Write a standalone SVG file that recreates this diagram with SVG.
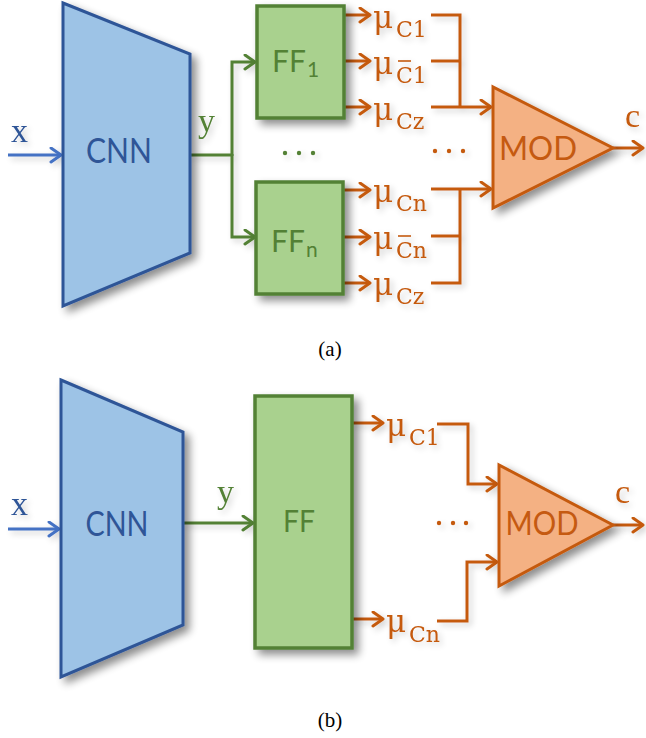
<svg xmlns="http://www.w3.org/2000/svg" width="646" height="738" viewBox="0 0 646 738">
  <defs>
    <filter id="shadow" x="-20%" y="-20%" width="150%" height="150%">
      <feGaussianBlur in="SourceAlpha" stdDeviation="4"/>
      <feOffset dx="5" dy="5" result="b"/>
      <feComponentTransfer><feFuncA type="linear" slope="0.45"/></feComponentTransfer>
      <feMerge><feMergeNode/><feMergeNode in="SourceGraphic"/></feMerge>
    </filter>
    <filter id="soft" x="-20%" y="-20%" width="150%" height="150%">
      <feGaussianBlur in="SourceAlpha" stdDeviation="3"/>
      <feOffset dx="3" dy="3" result="b"/>
      <feComponentTransfer><feFuncA type="linear" slope="0.2"/></feComponentTransfer>
      <feMerge><feMergeNode/><feMergeNode in="SourceGraphic"/></feMerge>
    </filter>
    <marker id="ah-blue" markerUnits="userSpaceOnUse" markerWidth="16" markerHeight="18" refX="12" refY="8" orient="auto">
      <path d="M2,1 L12,8 L2,15" fill="none" stroke="#4472C4" stroke-width="3" stroke-linecap="round" stroke-linejoin="round"/>
    </marker>
    <marker id="ah-green" markerUnits="userSpaceOnUse" markerWidth="16" markerHeight="18" refX="12" refY="8" orient="auto">
      <path d="M2,1 L12,8 L2,15" fill="none" stroke="#538135" stroke-width="3" stroke-linecap="round" stroke-linejoin="round"/>
    </marker>
    <marker id="ah-orange" markerUnits="userSpaceOnUse" markerWidth="16" markerHeight="18" refX="12" refY="8" orient="auto">
      <path d="M2,1 L12,8 L2,15" fill="none" stroke="#C55A11" stroke-width="3" stroke-linecap="round" stroke-linejoin="round"/>
    </marker>
  </defs>
  <style>
    .cnn { fill: #9DC3E6; stroke: #2F5597; stroke-width: 3; stroke-linejoin: miter; }
    .ff { fill: #A9D18E; stroke: #538135; stroke-width: 3.5; }
    .mod { fill: #F4B183; stroke: #C55A11; stroke-width: 3; stroke-linejoin: miter; }
    .lbl { font-family: Lato, "Open Sans", "Liberation Sans", sans-serif; }
    .t-cnn { fill: #2F5597; font-size: 34px; }
    .t-ff { fill: #538135; font-size: 30px; }
    .t-mod { fill: #C55A11; font-size: 32px; }
    .serif { font-family: "Liberation Serif", "DejaVu Serif", serif; }
    .var-b { fill: #2F5597; font-size: 34px; }
    .var-g { fill: #538135; font-size: 34px; }
    .var-o { fill: #C55A11; font-size: 34px; }
    .mu { fill: #C55A11; font-size: 31px; font-family: "DejaVu Serif", "Liberation Serif", serif; }
    .sub { fill: #C55A11; font-size: 22px; font-family: "DejaVu Serif", "Liberation Serif", serif; }
    .bar { stroke: #C55A11; stroke-width: 1.6; }
    .caption { fill: #000; font-size: 21px; }
    .c-blue { fill: none; stroke: #4472C4; stroke-width: 3; }
    .c-green { fill: none; stroke: #538135; stroke-width: 3; }
    .c-orange { fill: none; stroke: #C55A11; stroke-width: 3; }
    .dot-g { fill: #538135; }
    .dot-o { fill: #C55A11; }
  </style>

  <!-- ===== (a) one feed-forward head per concept ===== -->
  <g id="connectors-a" filter="url(#soft)">
    <path class="c-blue" d="M8,155 H61" marker-end="url(#ah-blue)"/>
    <path class="c-green" d="M190,155 H232"/>
    <path class="c-green" d="M232,156 V62 H255" marker-end="url(#ah-green)"/>
    <path class="c-green" d="M232,154 V237 H255" marker-end="url(#ah-green)"/>
    <!-- FF1 outputs -->
    <path class="c-orange" d="M344,15 H370" marker-end="url(#ah-orange)"/>
    <path class="c-orange" d="M344,61 H370" marker-end="url(#ah-orange)"/>
    <path class="c-orange" d="M344,107 H370" marker-end="url(#ah-orange)"/>
    <!-- FFn outputs -->
    <path class="c-orange" d="M343,190 H370" marker-end="url(#ah-orange)"/>
    <path class="c-orange" d="M343,237 H370" marker-end="url(#ah-orange)"/>
    <path class="c-orange" d="M343,283 H370" marker-end="url(#ah-orange)"/>
    <!-- gathering into MOD -->
    <path class="c-orange" d="M431,15 H460 V107"/>
    <path class="c-orange" d="M431,61 H460"/>
    <path class="c-orange" d="M431,107 H491" marker-end="url(#ah-orange)"/>
    <path class="c-orange" d="M431,189 H491" marker-end="url(#ah-orange)"/>
    <path class="c-orange" d="M460,189 V283 H431"/>
    <path class="c-orange" d="M431,236 H460"/>
    <path class="c-orange" d="M613,148 H643" marker-end="url(#ah-orange)"/>
  </g>

  <g id="cnn-a">
    <polygon class="cnn" points="63,3 190,54 190,253 63,306" filter="url(#shadow)"/>
    <text class="lbl t-cnn" x="119" y="163" text-anchor="middle" textLength="66" lengthAdjust="spacingAndGlyphs">CNN</text>
  </g>
  <g id="ff1-a">
    <rect class="ff" x="257" y="6" width="87" height="112" filter="url(#shadow)"/>
    <text class="lbl t-ff" x="272" y="72">FF<tspan style="font-size:21px" dx="1" dy="5">1</tspan></text>
  </g>
  <g id="ffn-a">
    <rect class="ff" x="256" y="182" width="87" height="112" filter="url(#shadow)"/>
    <text class="lbl t-ff" x="271" y="252">FF<tspan style="font-size:21px" dx="1" dy="5">n</tspan></text>
  </g>
  <g id="mod-a">
    <polygon class="mod" points="493,87 493,208 613,148" filter="url(#shadow)"/>
    <text class="lbl t-mod" x="538" y="160" text-anchor="middle" textLength="78" lengthAdjust="spacingAndGlyphs">MOD</text>
  </g>

  <g id="labels-a" filter="url(#soft)">
    <text class="serif var-b" x="11" y="142">x</text>
    <text class="serif var-g" x="198" y="132">y</text>
    <text class="serif var-o" x="625" y="127">c</text>
    <!-- FF1 memberships -->
    <text class="mu" x="373" y="28">μ</text>
    <text class="sub" x="396" y="37">C1</text>
    <text class="mu" x="373" y="74">μ</text>
    <text class="sub" x="396" y="83">C1</text>
    <line class="bar" x1="398" y1="61" x2="411" y2="61"/>
    <text class="mu" x="373" y="120">μ</text>
    <text class="sub" x="396" y="129">Cz</text>
    <!-- FFn memberships -->
    <text class="mu" x="373" y="202">μ</text>
    <text class="sub" x="396" y="211">Cn</text>
    <text class="mu" x="373" y="249">μ</text>
    <text class="sub" x="396" y="258">Cn</text>
    <line class="bar" x1="398" y1="236" x2="411" y2="236"/>
    <text class="mu" x="373" y="295">μ</text>
    <text class="sub" x="396" y="304">Cz</text>
    <circle class="dot-g" cx="285" cy="153" r="2.2"/>
    <circle class="dot-g" cx="299" cy="153" r="2.2"/>
    <circle class="dot-g" cx="313" cy="153" r="2.2"/>
    <circle class="dot-o" cx="435" cy="151" r="2.2"/>
    <circle class="dot-o" cx="449" cy="151" r="2.2"/>
    <circle class="dot-o" cx="463" cy="151" r="2.2"/>
  </g>
  <text class="serif caption" x="330" y="356" text-anchor="middle">(a)</text>

  <!-- ===== (b) single shared feed-forward head ===== -->
  <g id="connectors-b" filter="url(#soft)">
    <path class="c-blue" d="M8,529 H59" marker-end="url(#ah-blue)"/>
    <path class="c-green" d="M183,523 H253" marker-end="url(#ah-green)"/>
    <path class="c-orange" d="M352,423 H383" marker-end="url(#ah-orange)"/>
    <path class="c-orange" d="M352,619 H383" marker-end="url(#ah-orange)"/>
    <path class="c-orange" d="M437,424 H468 V484 H497" marker-end="url(#ah-orange)"/>
    <path class="c-orange" d="M437,621 H467 V562 H497" marker-end="url(#ah-orange)"/>
    <path class="c-orange" d="M613,525 H643" marker-end="url(#ah-orange)"/>
  </g>

  <g id="cnn-b">
    <polygon class="cnn" points="61,380 183,432 183,625 61,677" filter="url(#shadow)"/>
    <text class="lbl t-cnn" x="117" y="536" text-anchor="middle" textLength="63" lengthAdjust="spacingAndGlyphs">CNN</text>
  </g>
  <g id="ff-b">
    <rect class="ff" x="255" y="396" width="97" height="252" filter="url(#shadow)"/>
    <text class="lbl t-ff" x="299" y="532" text-anchor="middle" textLength="32" lengthAdjust="spacingAndGlyphs">FF</text>
  </g>
  <g id="mod-b">
    <polygon class="mod" points="499,465 499,586 613,525" filter="url(#shadow)"/>
    <text class="lbl t-mod" x="542" y="535" text-anchor="middle" textLength="73" lengthAdjust="spacingAndGlyphs">MOD</text>
  </g>

  <g id="labels-b" filter="url(#soft)">
    <text class="serif var-b" x="11" y="515">x</text>
    <text class="serif var-g" x="217" y="503">y</text>
    <text class="serif var-o" x="615" y="503">c</text>
    <text class="mu" x="386" y="436">μ</text>
    <text class="sub" x="409" y="445">C1</text>
    <text class="mu" x="386" y="632">μ</text>
    <text class="sub" x="409" y="642">Cn</text>
    <circle class="dot-o" cx="439" cy="523" r="2.2"/>
    <circle class="dot-o" cx="453" cy="523" r="2.2"/>
    <circle class="dot-o" cx="466" cy="523" r="2.2"/>
  </g>
  <text class="serif caption" x="330" y="727" text-anchor="middle">(b)</text>
</svg>
